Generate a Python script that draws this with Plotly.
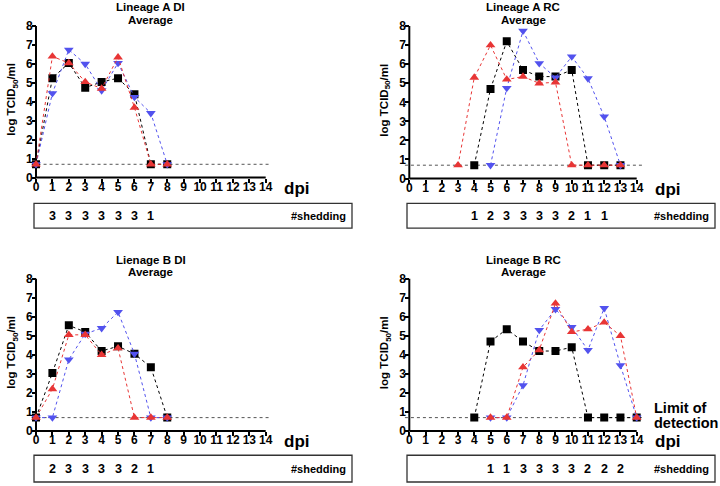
import plotly.graph_objects as go

W, H = 720, 486
LOD = 0.7
FONT = "Liberation Sans"
RED = "#e83535"
BLUE = "#5252ee"
BLACK = "#000000"

# ---- Lineage A DI ----
a_di_days = [0, 1, 2, 3, 4, 5, 6, 7, 8]
a_di_black = [0.7, 5.25, 6.05, 4.75, 5.05, 5.25, 4.4, 0.7, 0.7]
a_di_red = [0.7, 6.4, 6.05, 5.05, 4.7, 6.35, 3.7, 0.7, 0.7]
a_di_blue = [0.7, 4.45, 6.75, 6.0, 4.6, 6.05, 4.25, 3.4, 0.7]
a_di_shed_days = [1, 2, 3, 4, 5, 6, 7]
a_di_shed = [3, 3, 3, 3, 3, 3, 1]

# ---- Lineage A RC ----
a_rc_black_days = [4, 5, 6, 7, 8, 9, 10, 11, 12, 13]
a_rc_black = [0.7, 4.7, 7.2, 5.7, 5.35, 5.35, 5.7, 0.7, 0.7, 0.7]
a_rc_red_days = [3, 4, 5, 6, 7, 8, 9, 10, 11, 12, 13]
a_rc_red = [0.7, 5.3, 7.0, 5.2, 5.35, 5.0, 5.05, 0.7, 0.7, 0.7, 0.7]
a_rc_blue_days = [5, 6, 7, 8, 9, 10, 11, 12, 13]
a_rc_blue = [0.7, 4.75, 7.75, 6.05, 5.3, 6.4, 5.25, 3.25, 0.7]
a_rc_shed_days = [4, 5, 6, 7, 8, 9, 10, 11, 12]
a_rc_shed = [1, 2, 3, 3, 3, 3, 2, 1, 1]

# ---- Lineage B DI ----
b_di_days = [0, 1, 2, 3, 4, 5, 6, 7, 8]
b_di_black = [0.7, 3.05, 5.55, 5.2, 4.2, 4.45, 4.05, 3.35, 0.7]
b_di_red = [0.7, 2.2, 5.05, 5.05, 4.0, 4.35, 0.7, 0.7, 0.7]
b_di_blue = [0.7, 0.7, 3.75, 5.1, 5.4, 6.25, 4.05, 0.7, 0.7]
b_di_shed_days = [1, 2, 3, 4, 5, 6, 7]
b_di_shed = [2, 3, 3, 3, 3, 2, 1]

# ---- Lineage B RC ----
b_rc_black_days = [4, 5, 6, 7, 8, 9, 10, 11, 12, 13, 14]
b_rc_black = [0.7, 4.7, 5.35, 4.7, 4.2, 4.2, 4.4, 0.7, 0.7, 0.7, 0.7]
b_rc_red_days = [5, 6, 7, 8, 9, 10, 11, 12, 13, 14]
b_rc_red = [0.7, 0.7, 3.35, 4.25, 6.7, 5.2, 5.35, 5.7, 5.0, 0.7]
b_rc_blue_days = [5, 6, 7, 8, 9, 10, 11, 12, 13, 14]
b_rc_blue = [0.7, 0.7, 2.4, 5.3, 6.4, 5.45, 4.25, 6.45, 3.45, 0.7]
b_rc_shed_days = [5, 6, 7, 8, 9, 10, 11, 12, 13]
b_rc_shed = [1, 1, 3, 3, 3, 3, 2, 2, 2]

x_ticks = list(range(15))
y_ticks = list(range(9))

panels = [
    dict(title=["Lineage A DI", "Average"], x0=36, x14=265.7, y0=177, y8=24.3,
         black=(a_di_days, a_di_black), red=(a_di_days, a_di_red), blue=(a_di_days, a_di_blue),
         shed=(a_di_shed_days, a_di_shed), box=(34, 203, 352, 228), lod_text=False),
    dict(title=["Lineage A RC", "Average"], x0=409.3, x14=636.7, y0=178, y8=24.3,
         black=(a_rc_black_days, a_rc_black), red=(a_rc_red_days, a_rc_red), blue=(a_rc_blue_days, a_rc_blue),
         shed=(a_rc_shed_days, a_rc_shed), box=(407, 203, 715, 228), lod_text=False),
    dict(title=["Lienage B DI", "Average"], x0=36, x14=265.7, y0=432.5, y8=279,
         black=(b_di_days, b_di_black), red=(b_di_days, b_di_red), blue=(b_di_days, b_di_blue),
         shed=(b_di_shed_days, b_di_shed), box=(34, 457, 352, 484), lod_text=False),
    dict(title=["Lineage B RC", "Average"], x0=409.3, x14=636.7, y0=432.5, y8=279,
         black=(b_rc_black_days, b_rc_black), red=(b_rc_red_days, b_rc_red), blue=(b_rc_blue_days, b_rc_blue),
         shed=(b_rc_shed_days, b_rc_shed), box=(407, 457, 715, 484), lod_text=True),
]

XR = [-0.4, 14.45]
YR = [-0.25, 8.25]


def px(x):
    return x / W


def py(y):
    return 1 - y / H


fig = go.Figure()
shapes = []
annotations = []
layout = {}

for i, p in enumerate(panels):
    n = "" if i == 0 else str(i + 1)
    xa, ya = "x" + n, "y" + n
    u = (p["x14"] - p["x0"]) / 14
    v = (p["y0"] - p["y8"]) / 8
    xdom = [px(p["x0"] + XR[0] * u), px(p["x0"] + XR[1] * u)]
    ydom = [py(p["y0"] - YR[0] * v), py(p["y0"] - YR[1] * v)]
    tickfont = dict(family=FONT, size=12, color="black", weight="bold")
    layout["xaxis" + n] = dict(domain=xdom, range=XR, anchor="free", position=py(p["y0"]),
                               tickvals=x_ticks, ticks="outside", ticklen=4, tickwidth=1.5,
                               tickcolor="black", showgrid=False, zeroline=False, showline=False,
                               tickfont=tickfont, ticklabelstandoff=-6, fixedrange=True)
    layout["yaxis" + n] = dict(domain=ydom, range=YR, anchor="free", position=px(p["x0"]),
                               tickvals=y_ticks, ticks="outside", ticklen=4, tickwidth=1.5,
                               tickcolor="black", showgrid=False, zeroline=False, showline=False,
                               tickfont=tickfont, ticklabelstandoff=-3, fixedrange=True)

    # limit of detection
    fig.add_trace(go.Scatter(x=[-0.27, 14.35], y=[LOD, LOD], mode="lines", xaxis=xa, yaxis=ya,
                             line=dict(color="#555555", width=1, dash="dot"), showlegend=False,
                             hoverinfo="skip"))
    for key, color, symbol in [("black", BLACK, "square"), ("blue", BLUE, "triangle-down"),
                               ("red", RED, "triangle-up")]:
        days, vals = p[key]
        fig.add_trace(go.Scatter(x=days, y=vals, mode="lines+markers", xaxis=xa, yaxis=ya,
                                 line=dict(color=color, width=1, dash="dot"),
                                 marker=dict(symbol=symbol, size=8 if symbol == "square" else 8.5,
                                             color=color, line=dict(width=0)),
                                 showlegend=False))

    # axis lines
    shapes.append(dict(type="line", xref=xa, yref=ya, x0=0, x1=14, y0=0, y1=0,
                       line=dict(color="black", width=2), layer="below"))
    shapes.append(dict(type="line", xref=xa, yref=ya, x0=0, x1=0, y0=0, y1=8,
                       line=dict(color="black", width=2), layer="below"))

    # titles
    cx = p["x0"] + 7 * u
    ty = p["y8"] - 19
    for k, line in enumerate(p["title"]):
        annotations.append(dict(text=line, x=px(cx), y=py(ty + 12.5 * k), xref="paper", yref="paper",
                                showarrow=False, xanchor="center", yanchor="middle",
                                font=dict(family=FONT, size=11.5, color="black", weight="bold")))
    # y title
    annotations.append(dict(text="log TCID<sub>50</sub>/ml", x=px(p["x0"] - 24),
                            y=py((p["y0"] + p["y8"]) / 2 - 2), xref="paper", yref="paper",
                            showarrow=False, textangle=-90, xanchor="center", yanchor="middle",
                            font=dict(family=FONT, size=11.5, color="black", weight="bold")))
    # dpi
    annotations.append(dict(text="dpi", x=px(p["x14"] + 16), y=py(p["y0"] + 11), xref="paper",
                            yref="paper", showarrow=False, xanchor="left", yanchor="middle",
                            font=dict(family=FONT, size=17, color="black", weight="bold")))
    # shedding box
    bx0, by0, bx1, by1 = p["box"]
    shapes.append(dict(type="rect", xref="paper", yref="paper", x0=px(bx0), x1=px(bx1),
                       y0=py(by0), y1=py(by1), line=dict(color="#333333", width=1.3)))
    sd, sv = p["shed"]
    for d, s in zip(sd, sv):
        annotations.append(dict(text=str(s), x=d, y=py((by0 + by1) / 2), xref=xa, yref="paper",
                                showarrow=False, xanchor="center", yanchor="middle",
                                font=dict(family=FONT, size=12.5, color="black", weight="bold")))
    annotations.append(dict(text="#shedding", x=px(bx1 - 4), y=py((by0 + by1) / 2), xref="paper",
                            yref="paper", showarrow=False, xanchor="right", yanchor="middle",
                            font=dict(family=FONT, size=11, color="black", weight="bold")))
    if p["lod_text"]:
        for k, line in enumerate(["Limit of", "detection"]):
            annotations.append(dict(text=line, x=px(652), y=py(409.5 + 15 * k), xref="paper",
                                    yref="paper", showarrow=False, xanchor="left", yanchor="middle",
                                    font=dict(family=FONT, size=14.5, color="black", weight="bold")))

fig.update_layout(width=W, height=H, margin=dict(l=0, r=0, t=0, b=0),
                  paper_bgcolor="white", plot_bgcolor="rgba(0,0,0,0)",
                  shapes=shapes, annotations=annotations, showlegend=False, **layout)

# the page's default body margin would push the 720x486 figure off the window
fig.write_html("out.html", config={"displayModeBar": False},
               post_script="document.body.style.margin='0';")
